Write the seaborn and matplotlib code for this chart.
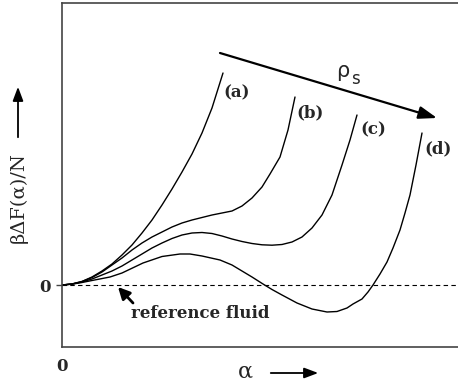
import numpy as np
import pandas as pd
import matplotlib
matplotlib.use("Agg")
import matplotlib.pyplot as plt
from matplotlib.patches import FancyArrowPatch
import seaborn as sns

sns.set_style("white")
plt.rcParams['font.family'] = ['DejaVu Serif', 'Liberation Serif']

# free energy curves (alpha, beta*dF/N), arbitrary units
alpha_a = [0, 0.10, 0.20, 0.30, 0.40, 0.50, 0.60, 0.70, 0.80, 0.90, 1.00, 1.10,
           1.20, 1.30, 1.40, 1.50, 1.61]
free_a = [0, 0.01, 0.035, 0.08, 0.14, 0.21, 0.30, 0.40, 0.52, 0.65, 0.80, 0.96,
          1.13, 1.31, 1.52, 1.77, 2.12]

alpha_b = [0, 0.10, 0.20, 0.30, 0.40, 0.50, 0.60, 0.70, 0.80, 0.90, 1.00, 1.10,
           1.20, 1.30, 1.40, 1.50, 1.60, 1.70, 1.80, 1.90, 2.00, 2.08, 2.18, 2.26, 2.33]
free_b = [0, 0.01, 0.035, 0.075, 0.13, 0.20, 0.27, 0.35, 0.42, 0.48, 0.53, 0.58,
          0.62, 0.65, 0.675, 0.70, 0.72, 0.74, 0.79, 0.87, 0.98, 1.11, 1.28, 1.55, 1.88]

alpha_c = [0, 0.10, 0.20, 0.30, 0.40, 0.50, 0.60, 0.70, 0.80, 0.90, 1.00, 1.10,
           1.20, 1.30, 1.40, 1.50, 1.60, 1.70, 1.80, 1.90, 2.00, 2.10, 2.20, 2.30,
           2.40, 2.50, 2.60, 2.70, 2.80, 2.88, 2.95]
free_c = [0, 0.01, 0.03, 0.06, 0.10, 0.14, 0.19, 0.25, 0.31, 0.37, 0.42, 0.465,
          0.50, 0.52, 0.525, 0.515, 0.49, 0.46, 0.435, 0.415, 0.402, 0.398, 0.405,
          0.43, 0.48, 0.57, 0.70, 0.90, 1.20, 1.45, 1.70]

alpha_d = [0, 0.10, 0.20, 0.30, 0.48, 0.60, 0.81, 1.00, 1.18, 1.28, 1.40, 1.58,
           1.70, 1.80, 1.90, 2.01, 2.10, 2.20, 2.35, 2.50, 2.65, 2.75, 2.85, 2.91,
           3.00, 3.06, 3.11, 3.18, 3.25, 3.31, 3.38, 3.43, 3.48, 3.54, 3.60]
free_d = [0, 0.008, 0.025, 0.045, 0.08, 0.12, 0.22, 0.285, 0.31, 0.31, 0.29, 0.25,
          0.20, 0.14, 0.08, 0.01, -0.045, -0.10, -0.18, -0.24, -0.27, -0.265, -0.23,
          -0.19, -0.14, -0.07, 0, 0.11, 0.23, 0.37, 0.55, 0.72, 0.90, 1.20, 1.52]

curve_labels = ['(a)', '(b)', '(c)', '(d)']

fig = plt.figure(figsize=(4.58, 3.86), dpi=100)
ax = fig.add_axes([62 / 458, 39 / 386, 396 / 458, 344 / 386])

curves = [(alpha_a, free_a), (alpha_b, free_b), (alpha_c, free_c), (alpha_d, free_d)]
for xs, ys in curves:
    df = pd.DataFrame({"alpha": xs, "F": ys})
    sns.lineplot(data=df, x="alpha", y="F", color="black", lw=1.0, ax=ax,
                 estimator=None, sort=False)

ax.axhline(0, color="black", lw=0.8, ls=(0, (4, 3)))

ax.set_xlim(0, 3.96)
ax.set_ylim(-0.62, 2.82)
ax.spines['right'].set_visible(False)
for s in ['left', 'top', 'bottom']:
    ax.spines[s].set_color('#444444')
    ax.spines[s].set_linewidth(1.2)

ax.set_xticks([0])
ax.set_xticklabels(['0'], fontsize=12, fontweight='bold')
ax.set_yticks([0])
ax.set_yticklabels(['0'], fontsize=12, fontweight='bold')
ax.tick_params(axis='x', length=0, pad=8)
ax.tick_params(axis='y', length=4, width=1, pad=4, left=True, color='#444444')
ax.set_xlabel("")
ax.set_ylabel("")

# curve labels
label_pos = [(1.75, 1.92), (2.48, 1.72), (3.11, 1.55), (3.76, 1.36)]
for lab, (lx, ly) in zip(curve_labels, label_pos):
    ax.text(lx, ly, lab, fontsize=12, fontweight='bold', ha='center', va='center')

# rho_s arrow
ax.annotate("", xy=(3.75, 1.67), xytext=(1.58, 2.32),
            arrowprops=dict(arrowstyle='-|>,head_length=1.1,head_width=0.38',
                            color='black', lw=1.6, shrinkA=0, shrinkB=0))
ax.text(2.81, 2.14, "ρ", fontsize=15, family='DejaVu Sans', ha='center', va='center')
ax.text(2.89, 2.06, "s", fontsize=12, family='DejaVu Sans', ha='left', va='center')

# reference fluid
ax.annotate("", xy=(0.56, -0.02), xytext=(0.71, -0.18),
            arrowprops=dict(arrowstyle='-|>,head_length=0.7,head_width=0.35',
                            color='black', lw=2.0, shrinkA=0, shrinkB=0))
ax.text(1.385, -0.29, "reference fluid", fontsize=12, fontweight='bold',
        ha='center', va='center')

# axis labels with arrows
fig.text(245 / 458, 1 - 372 / 386, "α", fontsize=16, ha='center', va='center')
fig.patches.append(FancyArrowPatch(
    (268 / 458, 1 - 373 / 386), (321 / 458, 1 - 373 / 386), transform=fig.transFigure,
    arrowstyle='-|>,head_length=1.2,head_width=0.45', mutation_scale=7,
    color='black', lw=1.3))
fig.text(19 / 458, 1 - 198 / 386, "βΔF(α)/N", fontsize=14,
         rotation=90, ha='center', va='center')
fig.patches.append(FancyArrowPatch(
    (18 / 458, 1 - 140 / 386), (18 / 458, 1 - 84 / 386), transform=fig.transFigure,
    arrowstyle='-|>,head_length=1.2,head_width=0.45', mutation_scale=7,
    color='black', lw=1.3))

fig.savefig("out.png", dpi=100)
